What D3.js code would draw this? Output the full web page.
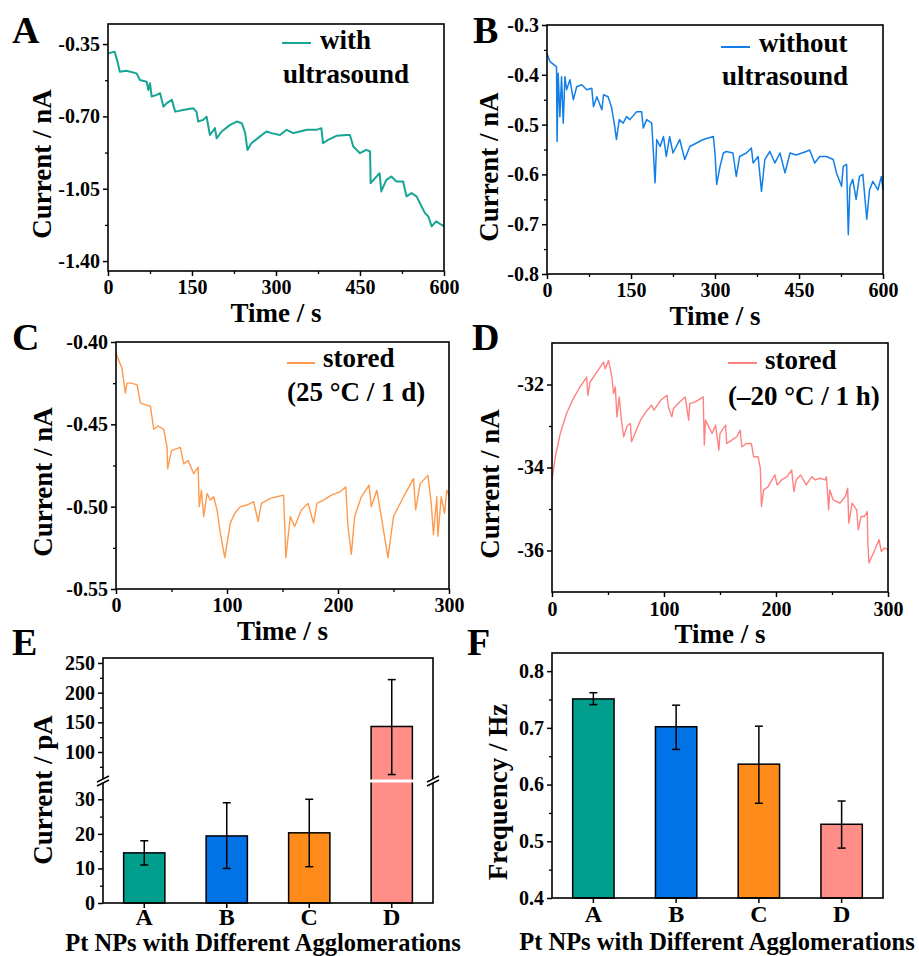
<!DOCTYPE html>
<html>
<head>
<meta charset="utf-8">
<script src="https://cdn.jsdelivr.net/npm/d3@7"></script>
<style>
  body { margin: 0; background: #fff; }
</style>
</head>
<body>
<div id="graf"></div>
<script>
// -- Datos: [tiempo (s), corriente (nA)] --
const seriesA = [[0,-0.395],[12,-0.387],[17,-0.435],[21,-0.484],[33,-0.479],[51,-0.492],[57,-0.524],[69,-0.532],[72,-0.572],[75,-0.540],
  [78,-0.604],[87,-0.596],[93,-0.588],[99,-0.653],[105,-0.636],[114,-0.620],[120,-0.677],[134,-0.669],[152,-0.661],[158,-0.677],
  [161,-0.725],[170,-0.717],[176,-0.701],[182,-0.790],[191,-0.757],[194,-0.806],[203,-0.773],[218,-0.741],[230,-0.725],[239,-0.733],
  [245,-0.781],[249,-0.862],[256,-0.830],[271,-0.798],[283,-0.773],[292,-0.781],[307,-0.790],[319,-0.765],[331,-0.781],[343,-0.773],
  [355,-0.765],[372,-0.765],[381,-0.757],[384,-0.830],[393,-0.814],[408,-0.794],[426,-0.790],[432,-0.790],[438,-0.846],[450,-0.878],
  [461,-0.862],[468,-0.870],[469,-1.023],[477,-0.999],[485,-0.975],[488,-1.063],[497,-1.007],[506,-0.991],[515,-1.015],[527,-1.015],
  [533,-1.087],[542,-1.071],[551,-1.087],[560,-1.136],[566,-1.168],[572,-1.184],[578,-1.232],[586,-1.208],[598,-1.229],[600,-1.225]]

const seriesB = [[0,-0.357],[5,-0.373],[17,-0.384],[18,-0.534],[20,-0.397],[23,-0.484],[26,-0.404],[29,-0.497],[32,-0.404],[35,-0.430],
  [41,-0.410],[47,-0.450],[53,-0.424],[62,-0.420],[71,-0.430],[80,-0.427],[83,-0.464],[89,-0.444],[98,-0.470],[101,-0.440],
  [109,-0.444],[115,-0.464],[121,-0.504],[124,-0.530],[129,-0.490],[136,-0.497],[142,-0.484],[148,-0.490],[160,-0.474],[169,-0.474],
  [172,-0.507],[178,-0.490],[187,-0.497],[190,-0.557],[193,-0.617],[196,-0.530],[202,-0.544],[208,-0.524],[213,-0.564],[219,-0.524],
  [225,-0.557],[237,-0.530],[246,-0.570],[255,-0.544],[267,-0.537],[279,-0.530],[297,-0.524],[300,-0.557],[303,-0.620],[309,-0.584],
  [315,-0.557],[320,-0.554],[332,-0.557],[338,-0.604],[344,-0.564],[356,-0.557],[365,-0.547],[368,-0.577],[377,-0.564],[383,-0.634],
  [389,-0.570],[398,-0.554],[407,-0.577],[416,-0.557],[425,-0.597],[434,-0.557],[445,-0.561],[463,-0.554],[469,-0.551],[478,-0.577],
  [487,-0.564],[499,-0.564],[511,-0.570],[517,-0.597],[526,-0.624],[529,-0.584],[535,-0.580],[538,-0.721],[541,-0.624],[546,-0.610],
  [552,-0.650],[558,-0.604],[564,-0.600],[571,-0.690],[576,-0.631],[582,-0.614],[591,-0.631],[597,-0.604],[600,-0.631]]

const seriesC = [[0,-0.407],[2.4,-0.411],[5.4,-0.416],[8.4,-0.431],[9.9,-0.425],[14,-0.425],[19,-0.426],[22,-0.437],[26,-0.438],[31,-0.439],
  [34,-0.453],[38,-0.451],[43,-0.453],[46,-0.464],[46.5,-0.477],[50,-0.466],[58,-0.464],[61,-0.474],[65,-0.472],[70,-0.480],
  [74,-0.476],[75,-0.500],[77,-0.490],[79,-0.506],[82,-0.492],[85,-0.496],[88,-0.494],[91,-0.502],[94,-0.516],[98,-0.531],
  [103,-0.510],[107,-0.504],[112,-0.500],[118,-0.499],[124,-0.497],[128,-0.509],[131,-0.498],[139,-0.495],[145,-0.494],[151,-0.493],
  [153,-0.531],[157,-0.506],[161,-0.512],[167,-0.502],[173,-0.498],[178,-0.510],[181,-0.498],[187,-0.496],[194,-0.493],[202,-0.491],
  [207,-0.488],[209,-0.512],[212,-0.529],[215,-0.506],[221,-0.494],[228,-0.487],[230,-0.500],[235,-0.490],[239,-0.506],[245,-0.531],
  [250,-0.506],[259,-0.494],[268,-0.483],[270,-0.502],[274,-0.486],[281,-0.481],[284,-0.498],[286,-0.517],[289,-0.494],[290,-0.518],
  [293,-0.494],[296,-0.504],[298,-0.490],[300,-0.493]]

const seriesD = [[0,-34.30],[3,-33.74],[7.4,-33.18],[13,-32.70],[19,-32.34],[25,-32.06],[31,-31.82],[32,-32.26],[34,-31.94],[40,-31.70],
  [46,-31.46],[47.6,-31.62],[50.5,-31.42],[53.5,-31.82],[55,-32.22],[56.5,-32.06],[58,-32.78],[60,-32.30],[62,-32.86],[64,-33.26],
  [67,-33.00],[70,-32.94],[71,-33.38],[79,-32.86],[85,-32.62],[89,-32.50],[91,-32.62],[97,-32.38],[102.6,-32.26],[104,-32.54],
  [107,-32.78],[108.5,-32.58],[114,-32.42],[119,-32.30],[122,-32.86],[123,-32.46],[128,-32.42],[135,-32.30],[136,-33.46],[137,-32.86],
  [140,-33.02],[143,-33.18],[146,-32.98],[149,-33.58],[150,-33.18],[155,-32.98],[156,-33.42],[160.5,-33.34],[165,-33.26],[168,-33.10],
  [169.5,-33.50],[174,-33.42],[178,-33.42],[180,-33.74],[184,-33.74],[186,-34.02],[187,-34.94],[189,-34.54],[193,-34.46],[199,-34.18],
  [201,-34.42],[205,-34.30],[210,-34.22],[214,-34.06],[216,-34.58],[218,-34.30],[222,-34.18],[227,-34.42],[232,-34.22],[235,-34.30],
  [239,-34.26],[244,-34.30],[245,-34.22],[247,-35.02],[248,-34.54],[251,-34.78],[257,-34.86],[262,-34.70],[264,-34.50],[265,-35.34],
  [268,-34.86],[272,-35.02],[273.5,-35.50],[276,-35.18],[279,-35.18],[281.5,-35.06],[282,-35.82],[283,-36.30],[287,-36.06],[292,-35.74],
  [294,-36.02],[297,-35.94],[300,-35.98]]

// -- Barras E y F --
const categorias = ['A', 'B', 'C', 'D']
const coloresBarras = ['#009e8c', '#0073e6', '#ff8c1a', '#ff8e88']
const corrienteE = [14.5, 19.4, 20.3, 143]
const errBajoE = [11, 10, 10.5, 62]
const errAltoE = [18, 29, 30, 222]
const frecuenciaF = [0.751, 0.702, 0.636, 0.530]
const errBajoF = [0.741, 0.662, 0.567, 0.488]
const errAltoF = [0.762, 0.740, 0.703, 0.571]

// -- Canvas --
const ancho_total = 919, alto_total = 956
const svg = d3.select('#graf').append('svg')
              .attr('width', ancho_total)
              .attr('height', alto_total)

const FUENTE = '"Liberation Serif", "Times New Roman", serif'

function texto(s, x, y, size, anchor) {
  return svg.append('text')
            .attr('x', x).attr('y', y)
            .attr('font-family', FUENTE)
            .attr('font-weight', 'bold')
            .attr('font-size', size)
            .attr('text-anchor', anchor || 'start')
            .text(s)
}

function tituloY(s, cx, cy) {
  texto(s, 0, 0, 27, 'middle')
    .attr('dy', '0.35em')
    .attr('transform', `translate(${cx}, ${cy}) rotate(-90)`)
}

function marco(b) {
  svg.append('rect')
     .attr('x', b.left).attr('y', b.top)
     .attr('width', b.right - b.left).attr('height', b.bottom - b.top)
     .attr('fill', 'none').attr('stroke', '#000').attr('stroke-width', 1.6)
}

function eje(tipo, escala, pos, mayores, menores, fmt, pad, size) {
  const tr = tipo == 'left' ? `translate(${pos},0)` : `translate(0,${pos})`
  const fn = tipo == 'left' ? d3.axisLeft : d3.axisBottom
  const g = svg.append('g').attr('transform', tr)
  g.call(fn(escala).tickValues(mayores).tickFormat(fmt).tickSize(5).tickPadding(pad))
  g.select('.domain').remove()
  g.selectAll('line').attr('stroke-width', 1.5)
  g.selectAll('text')
   .attr('font-family', FUENTE).attr('font-weight', 'bold').attr('font-size', size)
  if (menores.length) {
    const gm = svg.append('g').attr('transform', tr)
    gm.call(fn(escala).tickValues(menores).tickFormat('').tickSize(3))
    gm.select('.domain').remove()
    gm.selectAll('line').attr('stroke-width', 1.3)
  }
}

// -- Paneles de corriente vs tiempo --
function panelLinea(c) {
  const b = c.box
  const x = d3.scaleLinear().domain(c.xDom).range([b.left, b.right])
  const y = d3.scaleLinear().domain(c.yDom).range([b.bottom, b.top])

  svg.append('path')
     .datum(c.datos)
     .attr('d', d3.line().x(d => x(d[0])).y(d => y(d[1])))
     .attr('fill', 'none')
     .attr('stroke', c.color)
     .attr('stroke-width', c.lw)
     .attr('stroke-linejoin', 'round')

  marco(b)
  eje('left', y, b.left, c.yTicks, c.yMenor, c.yFmt, 3, 20)
  eje('bottom', x, b.bottom, c.xTicks, c.xMenor, d => d, c.xPad, 20)

  texto(c.letra, c.letraPos[0], c.letraPos[1], 38)
  tituloY('Current / nA', c.yLab[0], c.yLab[1])
  texto('Time / s', (b.left + b.right) / 2, b.bottom + 51, 27, 'middle')

  const l = c.leyenda
  svg.append('line')
     .attr('x1', l.linea[0]).attr('x2', l.linea[1])
     .attr('y1', l.linea[2]).attr('y2', l.linea[2])
     .attr('stroke', c.color).attr('stroke-width', 2)
  l.textos.forEach(t => texto(t[0], t[1], t[2], 27))
}

panelLinea({
  datos: seriesA, color: '#17a595', lw: 2,
  box: {left: 108, top: 24, right: 444, bottom: 271},
  xDom: [0, 600], xTicks: [0, 150, 300, 450, 600], xMenor: [75, 225, 375, 525], xPad: 4,
  yDom: [-1.448, -0.253], yTicks: [-0.35, -0.70, -1.05, -1.40], yMenor: [-0.525, -0.875, -1.225],
  yFmt: d => d.toFixed(2),
  letra: 'A', letraPos: [12, 43], yLab: [42, 164],
  leyenda: {linea: [282, 311, 43], textos: [['with', 320, 49], ['ultrasound', 283, 83]]}
})

panelLinea({
  datos: seriesB, color: '#137fe6', lw: 1.5,
  box: {left: 547, top: 25, right: 883, bottom: 274},
  xDom: [0, 600], xTicks: [0, 150, 300, 450, 600], xMenor: [75, 225, 375, 525], xPad: 4,
  yDom: [-0.8, -0.3], yTicks: [-0.3, -0.4, -0.5, -0.6, -0.7, -0.8], yMenor: [-0.35, -0.45, -0.55, -0.65, -0.75],
  yFmt: d => d.toFixed(1),
  letra: 'B', letraPos: [473, 43], yLab: [489, 167],
  leyenda: {linea: [721, 750, 47], textos: [['without', 759, 52], ['ultrasound', 722, 85]]}
})

panelLinea({
  datos: seriesC, color: '#ff9a4d', lw: 1.4,
  box: {left: 116, top: 342, right: 449, bottom: 589},
  xDom: [0, 300], xTicks: [0, 100, 200, 300], xMenor: [50, 150, 250], xPad: 4,
  yDom: [-0.55, -0.40], yTicks: [-0.40, -0.45, -0.50, -0.55], yMenor: [-0.425, -0.475, -0.525],
  yFmt: d => d.toFixed(2),
  letra: 'C', letraPos: [12, 350], yLab: [43, 482],
  leyenda: {linea: [287, 315, 363], textos: [['stored', 323, 367], ['(25 °C / 1 d)', 287, 401]]}
})

panelLinea({
  datos: seriesD, color: '#ff8282', lw: 1.4,
  box: {left: 552, top: 343, right: 888, bottom: 592},
  xDom: [0, 300], xTicks: [0, 100, 200, 300], xMenor: [50, 150, 250], xPad: 5,
  yDom: [-37, -31], yTicks: [-32, -34, -36], yMenor: [-33, -35],
  yFmt: d => String(d),
  letra: 'D', letraPos: [472, 350], yLab: [490, 484],
  leyenda: {linea: [728, 757, 363], textos: [['stored', 765, 369], ['(\u201320 °C / 1 h)', 728, 405]]}
})

// -- Barras con error --
function barras(x, yf, valores, base) {
  categorias.forEach((c, i) => {
    svg.append('rect')
       .attr('x', x(c)).attr('y', yf(valores[i]))
       .attr('width', x.bandwidth()).attr('height', base - yf(valores[i]))
       .attr('fill', coloresBarras[i]).attr('stroke', '#000').attr('stroke-width', 1.5)
  })
}

function errores(x, yf, bajos, altos) {
  categorias.forEach((c, i) => {
    const cx = x(c) + x.bandwidth() / 2
    svg.append('line').attr('x1', cx).attr('x2', cx)
       .attr('y1', yf(bajos[i])).attr('y2', yf(altos[i]))
       .attr('stroke', '#000').attr('stroke-width', 1.5)
    ;[bajos[i], altos[i]].forEach(v => {
      svg.append('line').attr('x1', cx - 4).attr('x2', cx + 4)
         .attr('y1', yf(v)).attr('y2', yf(v))
         .attr('stroke', '#000').attr('stroke-width', 1.5)
    })
  })
}

// Panel E (eje roto)
const boxE = {left: 103, top: 658, right: 433, bottom: 903}
const corteE = 781
const xE = d3.scaleBand().domain(categorias).range([boxE.left, boxE.right]).paddingInner(0.5).paddingOuter(0.25)
const yBajo = d3.scaleLinear().domain([0, 35]).range([boxE.bottom, corteE + 1])
const yAlto = d3.scaleLinear().domain([54.5, 258.4]).range([corteE - 2, boxE.top])
const yE = v => v <= 35 ? yBajo(v) : yAlto(v)

barras(xE, yE, corrienteE, boxE.bottom)
// hueco blanco en la barra D
svg.append('rect')
   .attr('x', xE('D') - 2).attr('y', corteE - 1.5)
   .attr('width', xE.bandwidth() + 4).attr('height', 3)
   .attr('fill', '#fff')
errores(xE, yE, errBajoE, errAltoE)
marco(boxE)
;[boxE.left, boxE.right].forEach(px => {
  svg.append('rect').attr('x', px - 3).attr('y', corteE - 2).attr('width', 6).attr('height', 4).attr('fill', '#fff')
  ;[corteE - 2, corteE + 2].forEach(py => {
    svg.append('line').attr('x1', px - 6).attr('x2', px + 6)
       .attr('y1', py + 3).attr('y2', py - 3)
       .attr('stroke', '#000').attr('stroke-width', 1.4)
  })
})
eje('left', yBajo, boxE.left, [0, 10, 20, 30], [5, 15, 25], d => d, 3, 20)
eje('left', yAlto, boxE.left, [100, 150, 200, 250], [75, 125, 175, 225], d => d, 3, 20)
eje('bottom', xE, boxE.bottom, categorias, [], d => d, 0, 24)
texto('E', 12, 655, 38)
tituloY('Current / pA', 43, 790)
texto('Pt NPs with Different Agglomerations', 263, 951, 24.5, 'middle')

// Panel F
const boxF = {left: 552, top: 653, right: 883, bottom: 898}
const xF = d3.scaleBand().domain(categorias).range([boxF.left, boxF.right]).paddingInner(0.5).paddingOuter(0.25)
const yF = d3.scaleLinear().domain([0.4, 0.832]).range([boxF.bottom, boxF.top])

barras(xF, yF, frecuenciaF, boxF.bottom)
errores(xF, yF, errBajoF, errAltoF)
marco(boxF)
eje('left', yF, boxF.left, [0.4, 0.5, 0.6, 0.7, 0.8], [0.45, 0.55, 0.65, 0.75], d => d.toFixed(1), 3, 20)
eje('bottom', xF, boxF.bottom, categorias, [], d => d, 2, 24)
texto('F', 467, 655, 38)
tituloY('Frequency / Hz', 498, 792)
texto('Pt NPs with Different Agglomerations', 717, 950, 24.5, 'middle')
</script>
</body>
</html>
